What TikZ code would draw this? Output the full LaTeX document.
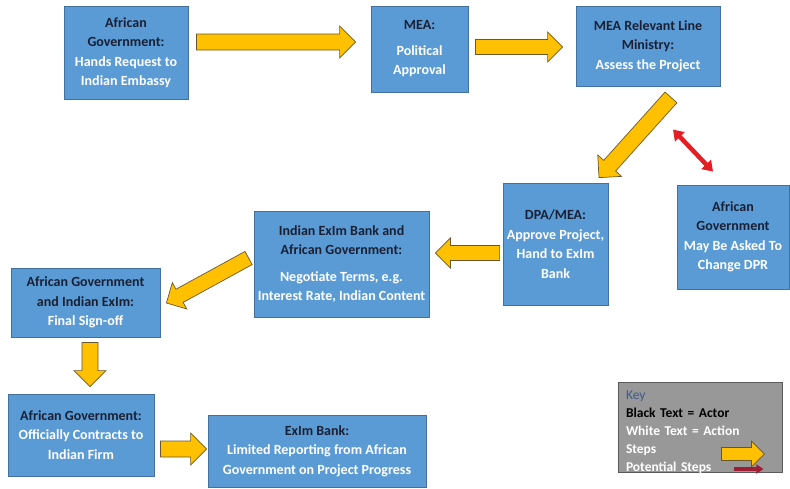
\documentclass[tikz,border=0pt]{standalone}
\usepackage{fontspec}
\setmainfont{Carlito}
\usepackage{tikz}
\usetikzlibrary{arrows.meta, calc}
\definecolor{boxblue}{RGB}{91,155,213}
\definecolor{boxedge}{RGB}{65,113,156}
\definecolor{actorink}{RGB}{26,32,52}
\definecolor{stepyellow}{RGB}{255,192,0}
\definecolor{stepedge}{RGB}{105,88,45}
\definecolor{linkred}{RGB}{228,30,36}
\definecolor{keygray}{RGB}{152,152,152}
\definecolor{keyedge}{RGB}{90,90,90}
\definecolor{keyblue}{RGB}{60,88,140}
\definecolor{keyred}{RGB}{160,28,52}

\newcommand{\actor}[1]{{\color{actorink}#1}}
% fat step arrow from #2 to #3, #1 = half width of the shaft
\newcommand{\steparrow}[3][8]{%
  \pgfmathsetmacro{\sahead}{2*#1}%
  \path #2 coordinate (sa-s) #3 coordinate (sa-e);
  \path ($(sa-e)!\sahead pt!(sa-s)$) coordinate (sa-h);
  \draw[stepfill] ($(sa-s)!#1pt!90:(sa-e)$) -- ($(sa-h)!#1pt!-90:(sa-s)$)
    -- ($(sa-h)!\sahead pt!-90:(sa-s)$) -- (sa-e)
    -- ($(sa-h)!\sahead pt!90:(sa-s)$) -- ($(sa-h)!#1pt!90:(sa-s)$)
    -- ($(sa-s)!#1pt!-90:(sa-e)$) -- cycle;
}

\tikzset{
  stage/.style={draw=boxedge, fill=boxblue, line width=0.8pt, align=center,
    text=white, inner sep=2pt, font=\bfseries\fontsize{14}{19.5}\selectfont},
  stepfill/.style={draw=stepedge, fill=stepyellow, line width=0.7pt, line join=miter},
  keybox/.style={draw=keyedge, fill=keygray, line width=0.8pt, align=left, text=white,
    text width=148pt, inner xsep=8pt, inner ysep=0pt, text height=17.5pt, text depth=72.5pt,
    font=\bfseries\fontsize{13.5}{18}\selectfont}
}

\begin{document}
\begin{tikzpicture}[x=1pt, y=-1pt]
  \useasboundingbox (0,0) rectangle (790,488);

  % boxes
  \node[stage, minimum width=124pt, minimum height=93pt] (agov) at (126,52.5)
    {\actor{African}\\\actor{Government:}\\Hands Request to\\Indian Embassy};
  \node[stage, minimum width=97pt, minimum height=86pt] (mea) at (419.5,49)
    {\actor{MEA:}\\[6pt]Political\\Approval};
  \node[stage, minimum width=144pt, minimum height=80pt] (ministry) at (648,46)
    {\actor{MEA Relevant Line}\\\actor{Ministry:}\\Assess the Project};
  \node[stage, minimum width=105pt, minimum height=122pt] (dpa) at (555.5,244)
    {\actor{DPA/MEA:}\\Approve Project,\\Hand to ExIm\\Bank};
  \node[stage, minimum width=112pt, minimum height=104pt] (dpr) at (733,237)
    {\actor{African}\\\actor{Government}\\May Be Asked To\\Change DPR};
  \node[stage, minimum width=175pt, minimum height=106pt] (terms) at (341.5,264)
    {\actor{Indian ExIm Bank and}\\\actor{African Government:}\\[7pt]Negotiate Terms, e.g.\\Interest Rate, Indian Content};
  \node[stage, minimum width=149pt, minimum height=69pt] (signoff) at (85.5,302.5)
    {\actor{African Government}\\\actor{and Indian ExIm:}\\Final Sign-off};
  \node[stage, minimum width=146pt, minimum height=82pt] (contract) at (81,435)
    {\actor{African Government:}\\Officially Contracts to\\Indian Firm};
  \node[stage, minimum width=218pt, minimum height=72pt] (report) at (317,451)
    {\actor{ExIm Bank:}\\Limited Reporting from African\\Government on Project Progress};

  % steps
  \steparrow{($(agov.east)+(8,-10.5)$)}{($(mea.west)+(-15,-7)$)}
  \steparrow[7.5]{($(mea.east)+(7,-2)$)}{($(ministry.west)+(-13,1)$)}
  \steparrow{($(ministry.south)+(23,11)$)}{($(dpa.north)+(43.5,-5)$)}
  \steparrow[7.5]{($(dpa.west)+(-3,9)$)}{($(terms.east)+(6,-11)$)}
  \steparrow[7.5]{($(terms.west)+(-5,-6)$)}{($(signoff.east)+(6,0.5)$)}
  \steparrow{($(signoff.south)+(4.5,5)$)}{($(contract.north)+(9,-7)$)}
  \steparrow{($(contract.east)+(6,14)$)}{($(report.west)+(-1,-2)$)}

  % potential step
  \draw[linkred, line width=4.5pt, {Triangle[length=10pt,width=13pt]}-{Triangle[length=10pt,width=13pt]}]
    ($(dpr.north)+(-60,-55)$) -- ($(dpr.north)+(-20,-13)$);

  % key
  \node[keybox, minimum width=164pt, minimum height=90pt] (key) at (700,427)
    {\textmd{\color{keyblue}Key}\\{\color{black}Black Text = Actor}\\White Text = Action\\Steps\\Potential Steps};
  \steparrow[6.5]{($(key.east)+(-61,27)$)}{($(key.east)+(-18,27)$)}
  \draw[keyred, line width=4pt, -{Triangle[length=7pt,width=9pt]}]
    ($(key.east)+(-48,42)$) -- ($(key.east)+(-19,42)$);
\end{tikzpicture}
\end{document}
